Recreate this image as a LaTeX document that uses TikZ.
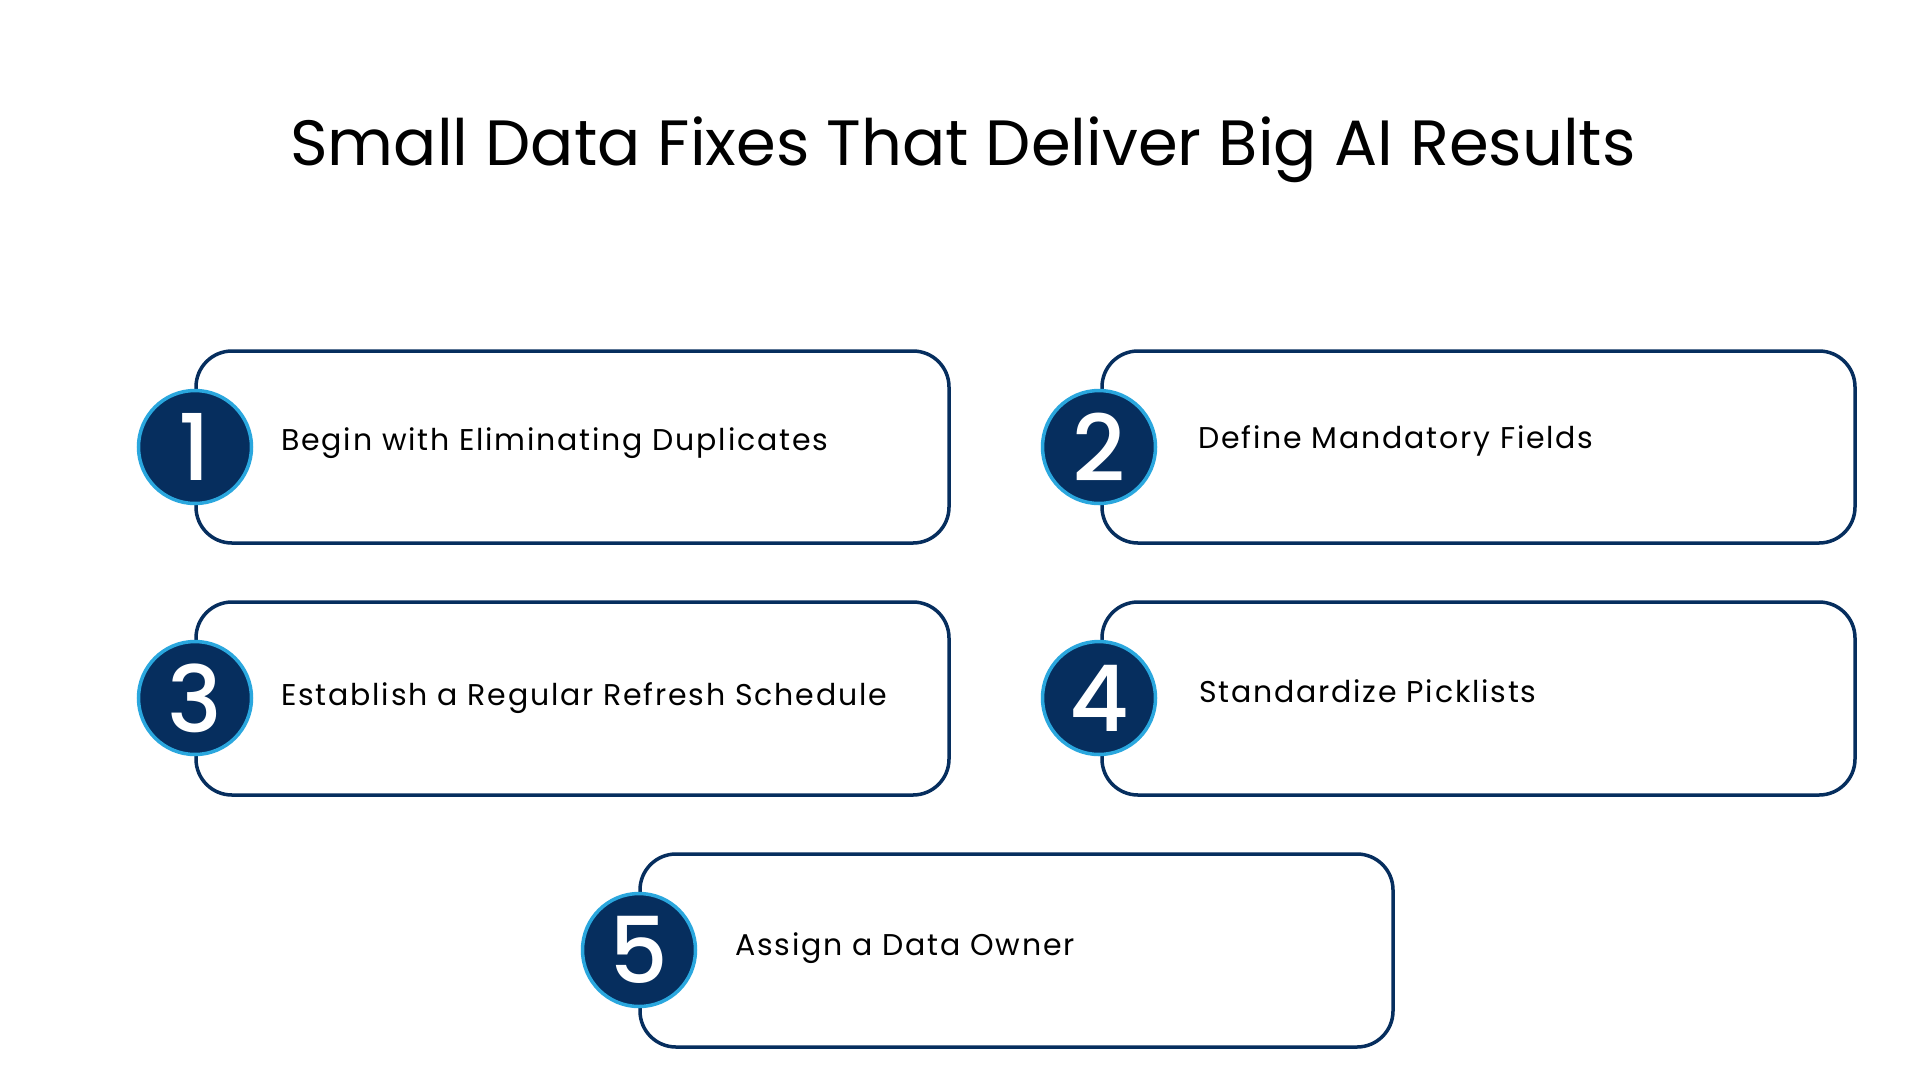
\documentclass[tikz,border=0pt]{standalone}
\usepackage{fontspec}
\setmainfont{Poppins}
\newfontfamily\labelfont[LetterSpace=6]{Poppins}
\newfontfamily\numfont{Poppins Medium}
\definecolor{navy}{HTML}{062E5E}
\definecolor{ringblue}{HTML}{2AA7DE}
\tikzset{
  stepbox/.style={draw=navy, line width=3.5pt, rounded corners=36pt, fill=white},
  numcirc/.style={circle, fill=navy, draw=ringblue, line width=3.5pt, minimum size=113pt, inner sep=0pt, text=white, font=\numfont\fontsize{92}{92}\selectfont},
  steplabel/.style={anchor=base west, inner sep=0pt, text=black, font=\labelfont\fontsize{30}{30}\selectfont},
}
\begin{document}
\begin{tikzpicture}[x=1pt,y=-1pt]
\useasboundingbox[fill=white] (0,0) rectangle (1920,1080);
\node[anchor=base, inner sep=0pt, font=\fontsize{64}{64}\selectfont] (title) at (963,165) {Small Data Fixes That Deliver Big AI Results};
% boxes
\draw[stepbox] (196,351) rectangle (949,543);
\draw[stepbox] (1102,351) rectangle (1855,543);
\draw[stepbox] (196,602) rectangle (949,795);
\draw[stepbox] (1102,602) rectangle (1855,795);
\draw[stepbox] (640,854) rectangle (1393,1047);
\node[numcirc] (c1) at (195,447) {1};
\node[numcirc] (c2) at (1099,447) {2};
\node[numcirc] (c3) at (195,698) {3};
\node[numcirc] (c4) at (1099,698) {4};
\node[numcirc] (c5) at (639,950) {5};
\node[steplabel] (t1) at (281,450) {Begin with Eliminating Duplicates};
\node[steplabel] (t2) at (1198,448) {Define Mandatory Fields};
\node[steplabel] (t3) at (281,705) {Establish a Regular Refresh Schedule};
\node[steplabel] (t4) at (1199,702) {Standardize Picklists};
\node[steplabel] (t5) at (735,955) {Assign a Data Owner};
\end{tikzpicture}
\end{document}
